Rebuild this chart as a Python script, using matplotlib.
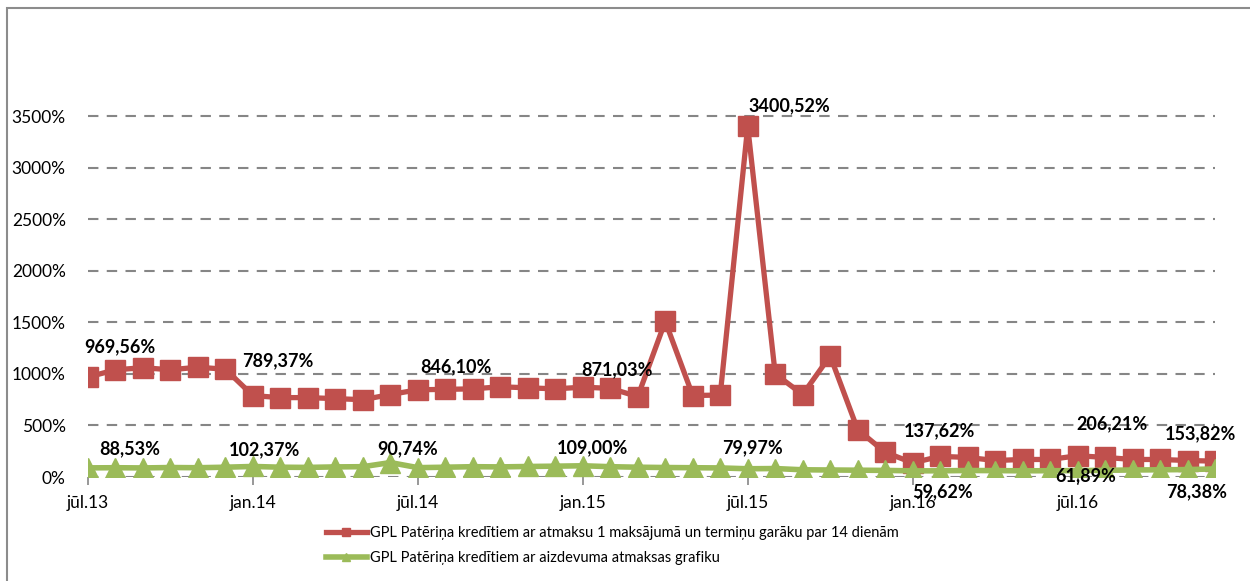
import matplotlib.pyplot as plt
import matplotlib.patches as patches
import numpy as np

plt.rcParams['font.family'] = ['Lato', 'DejaVu Sans']

# months jūl.13 .. dec.16
tick_idx = [0, 6, 12, 18, 24, 30, 36]
tick_labels = ['jūl.13', 'jan.14', 'jūl.14', 'jan.15', 'jūl.15', 'jan.16', 'jūl.16']

red_name = 'GPL Patēriņa kredītiem ar atmaksu 1 maksājumā un termiņu garāku par 14 dienām'
green_name = 'GPL Patēriņa kredītiem ar aizdevuma atmaksas grafiku'

red = [969.56, 1040, 1060, 1040, 1065, 1045, 789.37, 770, 770, 760, 750, 800,
       846.10, 850, 855, 875, 865, 855, 871.03, 860, 780, 1510, 790, 795,
       3400.52, 1000, 800, 1175, 460, 240, 137.62, 200, 190, 160, 170, 170,
       206.21, 190, 170, 170, 160, 153.82]
green = [88.53, 90, 88, 92, 90, 95, 102.37, 95, 93, 98, 100, 140,
         90.74, 95, 100, 98, 102, 105, 109.00, 100, 95, 92, 90, 88,
         79.97, 82, 70, 68, 66, 64, 59.62, 60, 63, 62, 60, 61,
         61.89, 65, 68, 70, 72, 78.38]

# labelled points and label offsets (pixels)
red_lab = {0: (32, 30), 6: (25, 35), 12: (38, 23), 18: (34, 17),
           24: (42, 21), 30: (27, 32), 36: (34, 32), 41: (-15, 27)}
green_lab = {0: (42, 19), 6: (12, 17), 12: (-10, 19), 18: (10, 18),
             24: (5, 21), 30: (30, -21), 36: (8, -5), 41: (-18, -23)}

RED = '#C0504D'
GREEN = '#9BBB59'
GRID = '#868686'

def fmt(v):
    return ('%.2f' % v).replace('.', ',') + '%'

fig = plt.figure(figsize=(12.5, 5.81), dpi=100)
ax = fig.add_axes([88/1250, 104/581, 1127/1250, 412.4/581])

x = np.arange(len(red))
ax.plot(x, red, color=RED, lw=3.8, marker='s', ms=14, label=red_name, zorder=3)
ax.plot(x, green, color=GREEN, lw=4, marker='^', ms=14, label=green_name, zorder=4)

for i, (dx, dy) in red_lab.items():
    ax.annotate(fmt(red[i]), (i, red[i]), xytext=(dx, dy), textcoords='offset pixels',
                ha='center', va='center', fontsize=13, fontweight='bold', zorder=6,
                annotation_clip=False)
for i, (dx, dy) in green_lab.items():
    ax.annotate(fmt(green[i]), (i, green[i]), xytext=(dx, dy), textcoords='offset pixels',
                ha='center', va='center', fontsize=13, fontweight='bold', zorder=6,
                annotation_clip=False)

ax.set_xlim(0, len(red) - 1)
ax.set_ylim(0, 4000)
yt = np.arange(0, 3501, 500)
ax.set_yticks(yt)
ax.set_yticklabels(['%d%%' % v for v in yt])
ax.set_xticks(tick_idx)
ax.set_xticklabels(tick_labels)
ax.tick_params(axis='y', length=0, pad=16, labelsize=12.5)
ax.tick_params(axis='x', length=6, color=GRID, width=1.2, pad=7, labelsize=12.5)
for v in yt:
    ax.axhline(v, color=GRID, lw=1.5, ls=(0, (5, 4)), zorder=1)
for s in ax.spines.values():
    s.set_visible(False)

leg = ax.legend(loc='upper left', bbox_to_anchor=(232/1127, -0.105), frameon=False,
                fontsize=10.5, handlelength=2.8, markerscale=0.4, labelspacing=0.75,
                handletextpad=0.2, borderaxespad=0)

fig.patches.append(patches.Rectangle((7/1250, -0.05), 1.2, (581-8)/581 + 0.05,
                                     transform=fig.transFigure, fill=False,
                                     edgecolor='#8c8c8c', lw=1.5))

fig.savefig('out.png', dpi=100)
